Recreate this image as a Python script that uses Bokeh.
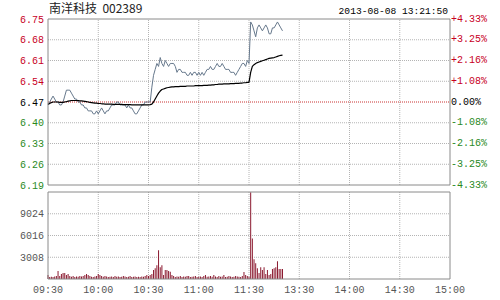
from bokeh.plotting import figure
from bokeh.models import Range1d, FixedTicker, LinearAxis, Label, ColumnDataSource
from bokeh.embed import file_html
from bokeh.resources import INLINE

# ---------------- data ----------------
title_text = "南洋科技\u00a0\u00a0002389"
stamp_text = "2013-08-08 13:21:50"
prev_close = 6.47

price_ticks = [6.19, 6.26, 6.33, 6.40, 6.47, 6.54, 6.61, 6.68, 6.75]
price_labels = ["6.19", "6.26", "6.33", "6.40", "6.47", "6.54", "6.61", "6.68", "6.75"]
pct_labels = ["-4.33%", "-3.25%", "-2.16%", "-1.08%", "0.00%", "+1.08%", "+2.16%", "+3.25%", "+4.33%"]

vol_ticks = [3008, 6016, 9024]
vol_labels = ["3008", "6016", "9024"]
vol_top = 12032

time_ticks = [0, 30, 60, 90, 120, 150, 180, 210, 240]
time_labels = ["09:30", "10:00", "10:30", "11:00", "11:30", "13:30", "14:00", "14:30", "15:00"]

price = [
    6.46, 6.47, 6.48, 6.49, 6.48, 6.47, 6.47, 6.46, 6.46, 6.47,
    6.49, 6.51, 6.51, 6.51, 6.50, 6.49, 6.48, 6.48, 6.47, 6.47,
    6.46, 6.46, 6.45, 6.45, 6.44, 6.44, 6.44, 6.43, 6.43, 6.44,
    6.43, 6.44, 6.45, 6.44, 6.43, 6.44, 6.44, 6.45, 6.46, 6.46,
    6.46, 6.47, 6.47, 6.46, 6.46, 6.46, 6.46, 6.45, 6.46, 6.45,
    6.45, 6.44, 6.43, 6.43, 6.44, 6.45, 6.46, 6.46, 6.47, 6.47,
    6.47, 6.47, 6.52, 6.56, 6.58, 6.60, 6.59, 6.62, 6.60, 6.59,
    6.61, 6.60, 6.59, 6.60, 6.60, 6.60, 6.59, 6.57, 6.58, 6.58,
    6.57, 6.57, 6.57, 6.56, 6.56, 6.57, 6.56, 6.57, 6.57, 6.56,
    6.57, 6.56, 6.57, 6.56, 6.57, 6.58, 6.58, 6.59, 6.58, 6.58,
    6.59, 6.60, 6.59, 6.59, 6.60, 6.59, 6.58, 6.58, 6.58, 6.57,
    6.57, 6.57, 6.56, 6.57, 6.58, 6.59, 6.60, 6.60, 6.59, 6.61,
    6.60, 6.74, 6.73, 6.71, 6.69, 6.72, 6.73, 6.72, 6.71, 6.72,
    6.73, 6.72, 6.70, 6.70, 6.72, 6.72, 6.73, 6.74, 6.73, 6.72,
    6.71,
]

avg_price = [
    6.462, 6.465, 6.468, 6.470, 6.470, 6.470, 6.470, 6.469, 6.469, 6.469,
    6.470, 6.471, 6.473, 6.474, 6.475, 6.475, 6.475, 6.475, 6.475, 6.474,
    6.474, 6.473, 6.472, 6.471, 6.470, 6.469, 6.468, 6.467, 6.466, 6.466,
    6.465, 6.465, 6.464, 6.464, 6.463, 6.463, 6.463, 6.463, 6.463, 6.462,
    6.462, 6.462, 6.462, 6.462, 6.462, 6.461, 6.461, 6.461, 6.461, 6.461,
    6.460, 6.460, 6.460, 6.460, 6.460, 6.460, 6.460, 6.460, 6.460, 6.460,
    6.460, 6.461, 6.463, 6.470, 6.480, 6.490, 6.500, 6.507, 6.512, 6.514,
    6.516, 6.518, 6.519, 6.520, 6.521, 6.521, 6.522, 6.522, 6.522, 6.523,
    6.523, 6.523, 6.523, 6.524, 6.524, 6.524, 6.524, 6.524, 6.525, 6.525,
    6.525, 6.525, 6.525, 6.526, 6.526, 6.526, 6.527, 6.527, 6.528, 6.528,
    6.529, 6.529, 6.530, 6.530, 6.530, 6.531, 6.531, 6.531, 6.531, 6.532,
    6.532, 6.532, 6.533, 6.533, 6.533, 6.534, 6.534, 6.535, 6.535, 6.536,
    6.536, 6.570, 6.590, 6.596, 6.600, 6.603, 6.605, 6.607, 6.609, 6.611,
    6.613, 6.615, 6.617, 6.618, 6.619, 6.620, 6.622, 6.624, 6.626, 6.627,
    6.628,
]

volume = [
    550, 270, 300, 270, 350, 410, 1100, 410, 680, 820,
    820, 550, 680, 410, 300, 410, 270, 350, 300, 410,
    350, 410, 550, 680, 550, 410, 300, 270, 350, 410,
    680, 550, 410, 300, 410, 350, 270, 300, 350, 270,
    410, 300, 350, 270, 300, 410, 350, 270, 300, 410,
    270, 300, 350, 270, 300, 270, 350, 300, 410, 550,
    410, 550, 680, 1230, 1500, 1910, 3960, 1640, 1910, 550,
    1230, 1230, 1100, 1000, 550, 410, 270, 350, 300, 410,
    270, 350, 300, 410, 410, 270, 300, 350, 410, 270,
    300, 350, 270, 410, 550, 300, 350, 410, 300, 550,
    350, 270, 410, 300, 350, 550, 270, 300, 410, 350,
    270, 300, 410, 350, 300, 270, 410, 960, 550, 410,
    300, 12000, 5600, 2730, 2190, 1500, 820, 1640, 1230, 1640,
    680, 1230, 550, 680, 1370, 1500, 1640, 2460, 1370, 1370,
    1370,
]

minute_index = list(range(len(price)))

# ---------------- layout (pixels) ----------------
W, H = 500, 300
PX_L, PX_R = 47.5, 449.5      # left / right edge of both panels
PY_T, PY_B = 18.5, 184.5      # price panel top / bottom
VY_T, VY_B = 191.5, 278.5     # volume panel top / bottom

MONO = "Liberation Mono"
FS = "10px"
RED = "#c8001e"
GREEN = "#2a8a1e"
BLACK = "#000000"
GREY_TXT = "#555555"
GRID = "#b4b4b4"
BORDER = "#8a8a8a"

t0, t1 = time_ticks[0], time_ticks[-1]
sx = (t1 - t0) / (PX_R - PX_L)
x_range = Range1d(t0 - PX_L * sx, t1 + (W - PX_R) * sx)

pl, ph = price_ticks[0], price_ticks[-1]
sy = (ph - pl) / (PY_B - PY_T)
y_range = Range1d(pl - (H - PY_B) * sy, ph + PY_T * sy)

vl, vh = 0, vol_top
sv = (vh - vl) / (VY_B - VY_T)
vol_range = Range1d(vl - (H - VY_B) * sv, vh + VY_T * sv)

p = figure(width=W, height=H, x_range=x_range, y_range=y_range,
           output_backend="svg", toolbar_location=None,
           x_axis_location=None, y_axis_location=None,
           min_border_left=0, min_border_right=0, min_border_top=0, min_border_bottom=0)
p.extra_y_ranges = {"vol": vol_range}
p.outline_line_color = None
p.xgrid.visible = False
p.ygrid.visible = False
p.background_fill_color = "white"
p.border_fill_color = "white"

# ---------------- grids (dotted) ----------------
inner_t = time_ticks[1:-1]
p.segment(x0=inner_t, x1=inner_t, y0=[pl] * len(inner_t), y1=[ph] * len(inner_t),
          line_color=GRID, line_dash="1 1", line_width=1)
hp = [t for t in price_ticks[1:-1] if t != prev_close]
p.segment(x0=[t0] * len(hp), x1=[t1] * len(hp), y0=hp, y1=hp,
          line_color=GRID, line_dash="1 1", line_width=1)
p.segment(x0=[t0], x1=[t1], y0=[prev_close], y1=[prev_close],
          line_color="#c83232", line_dash="1 1", line_width=1)

p.segment(x0=inner_t, x1=inner_t, y0=[vl] * len(inner_t), y1=[vh] * len(inner_t),
          line_color=GRID, line_dash="1 1", line_width=1, y_range_name="vol")
p.segment(x0=[t0] * len(vol_ticks), x1=[t1] * len(vol_ticks), y0=vol_ticks, y1=vol_ticks,
          line_color=GRID, line_dash="1 1", line_width=1, y_range_name="vol")

# ---------------- data marks ----------------
src = ColumnDataSource(dict(m=minute_index, price=price, avg=avg_price, vol=volume))
p.vbar(x="m", top="vol", bottom=0, width=0.6, source=src,
       fill_color="#8b1a30", line_color=None, y_range_name="vol")
p.line("m", "price", source=src, line_color="#66788c", line_width=1)
p.line("m", "avg", source=src, line_color="#000000", line_width=1.2)

# ---------------- panel borders ----------------
p.quad(left=[t0], right=[t1], bottom=[pl], top=[ph], fill_color=None,
       line_color=BORDER, line_width=1)
p.quad(left=[t0], right=[t1], bottom=[vl], top=[vh], fill_color=None,
       line_color=BORDER, line_width=1, y_range_name="vol")


# ---------------- axes ----------------
def make_axis(side, ticks, labels, color, loc, standoff, range_name=None):
    ax = LinearAxis(ticker=FixedTicker(ticks=ticks), fixed_location=loc)
    if range_name is not None:
        ax.y_range_name = range_name
    ax.major_label_overrides = {t: l for t, l in zip(ticks, labels)}
    ax.axis_line_color = None
    ax.major_tick_line_color = None
    ax.minor_tick_line_color = None
    ax.major_tick_out = 0
    ax.major_tick_in = 0
    ax.major_label_standoff = standoff
    ax.major_label_text_color = color
    ax.major_label_text_font = MONO
    ax.major_label_text_font_size = FS
    p.add_layout(ax, side)


groups = (
    ([i for i, t in enumerate(price_ticks) if t > prev_close], RED),
    ([i for i, t in enumerate(price_ticks) if t == prev_close], BLACK),
    ([i for i, t in enumerate(price_ticks) if t < prev_close], GREEN),
)
for idx, col in groups:
    make_axis("left", [price_ticks[i] for i in idx], [price_labels[i] for i in idx], col, t0, 4)
    make_axis("right", [price_ticks[i] for i in idx], [pct_labels[i] for i in idx], col, t1, 1)

make_axis("left", vol_ticks, vol_labels, GREY_TXT, t0, 4, range_name="vol")
make_axis("below", time_ticks, time_labels, GREY_TXT, vl, 6, range_name="vol")

# ---------------- header texts ----------------
p.add_layout(Label(x=t0, y=ph, y_offset=3, x_offset=1, text=title_text,
                   text_font="Noto Sans CJK SC", text_font_size="12px", text_color="#222222",
                   text_baseline="bottom", text_align="left"))
p.add_layout(Label(x=t1, y=ph, y_offset=2, x_offset=-2, text=stamp_text,
                   text_font=MONO, text_font_size="9.6px", text_color="#000000",
                   text_baseline="bottom", text_align="right"))

open("out.html", "w").write(file_html(p, INLINE))
